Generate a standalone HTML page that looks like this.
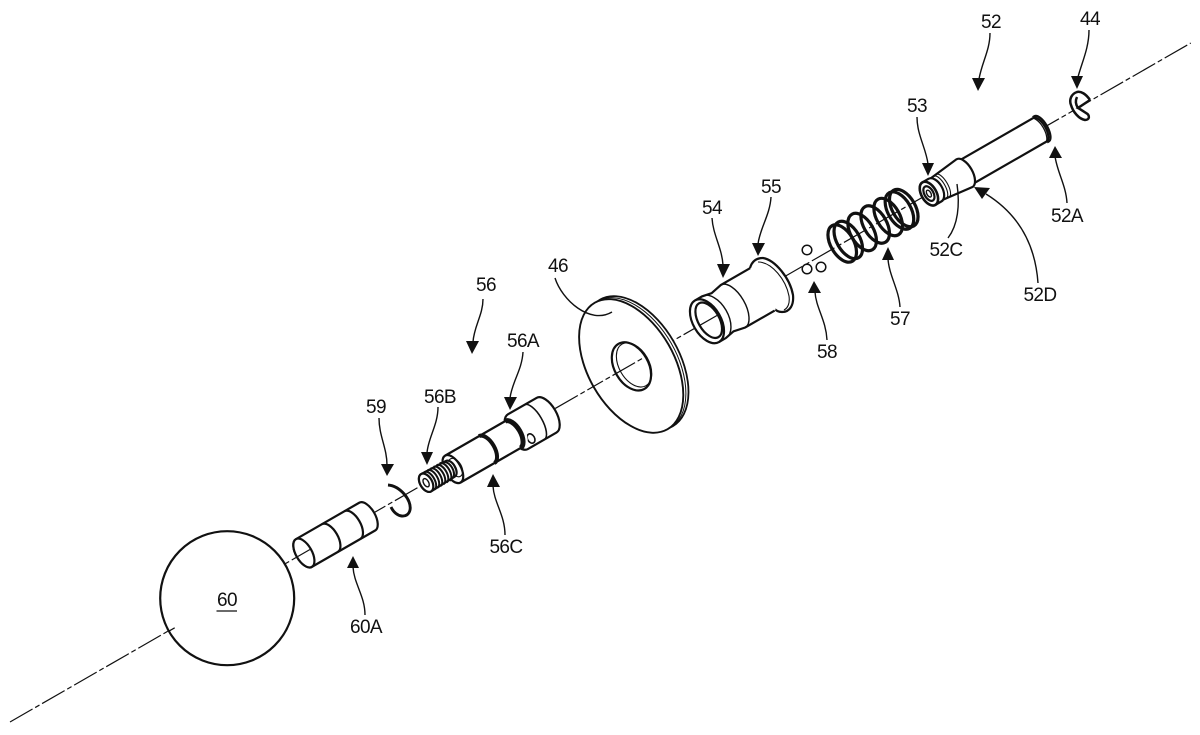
<!DOCTYPE html>
<html><head><meta charset="utf-8"><style>
html,body{margin:0;padding:0;background:#fff;width:1200px;height:735px;overflow:hidden}
svg{display:block}
text{font-family:"Liberation Sans",sans-serif;font-size:19px;letter-spacing:-.6px;fill:#111;text-anchor:middle}
.p{fill:#fff;stroke:#111;stroke-width:2.2}
.f{fill:#fff;stroke:none}
.n{fill:none;stroke:#111;stroke-width:2.2}
.t{fill:none;stroke:#111;stroke-width:1.1}
.a{fill:none;stroke:#111;stroke-width:1.2;stroke-dasharray:26 3 5 3}
.l{fill:none;stroke:#111;stroke-width:1.4}
.h{fill:#111;stroke:none}
</style></head><body>
<svg width="1200" height="735" viewBox="0 0 1200 735" xmlns="http://www.w3.org/2000/svg">
<line class="a" x1="0" y1="0" x2="1362" y2="0" transform="translate(10 722) rotate(-29.9)"/>
<!-- sphere 60 -->
<circle class="p" cx="227.2" cy="598.2" r="67"/>
<line x1="168.600" y1="631.300" x2="174.700" y2="627.800" stroke="#111" stroke-width="1.2"/>
<g transform="translate(10 722) rotate(-29.9)">
<!-- 60A -->
<path class="p" d="M339,-16 L412,-16 A8 16 0 0 1 412,16 L339,16 A8 16 0 0 1 339,-16Z"/>
<ellipse class="p" cx="339" cy="0" rx="8" ry="16"/>
<path class="n" d="M369,-16 A8 16 0 0 1 369,16 M395,-16 A8 16 0 0 1 395,16"/>
<line class="a" x1="332" y1="0" x2="346" y2="0" stroke-dasharray="8 3"/>
<!-- shaft 56 -->
<g transform="translate(0 1.5)">
<path class="p" d="M585,-20 L618,-20 A10 20 0 0 1 618,20 L585,20 A10 20 0 0 1 585,-20Z"/>
<path class="n" d="M604,-20 A8 20 0 0 1 604,20" style="stroke-width:1.6"/>
<ellipse class="p" cx="593" cy="12.500" rx="3.500" ry="5" style="stroke-width:1.6"/>
<path class="f" d="M510,-15.5 L585,-15.5 A7 15.5 0 0 1 585,15.5 L510,15.5Z"/>
<path class="n" d="M510,-15.5 L583,-15.5 M510,15.5 L583,15.5"/>
<ellipse class="p" cx="510" cy="0" rx="8" ry="15.5"/>
<path class="n" style="stroke-width:4" d="M549,-15.5 A8 15.5 0 0 1 549,15.5"/>
<path class="n" style="stroke-width:5" d="M579,-15.5 A8 15.5 0 0 1 579,15.5"/>
<ellipse class="t" cx="513" cy="0" rx="6" ry="10"/>
</g>
<!-- thread -->
<path class="p" d="M480,-10 L508,-9 A5 9 0 0 1 508,9 L480,10 A6 10 0 0 1 480,-10Z"/>
<path class="n" style="stroke-width:2" d="M484,-10 A5 10 0 0 1 484,10 M487.500,-10 A5 10 0 0 1 487.500,10 M491,-10 A5 10 0 0 1 491,10 M494.500,-10 A5 10 0 0 1 494.500,10 M498,-10 A5 10 0 0 1 498,10 M501.500,-10 A5 10 0 0 1 501.500,10 M505,-9 A5 9 0 0 1 505,9"/>
<ellipse class="p" cx="480" cy="0" rx="6" ry="10"/>
<ellipse class="n" cx="480" cy="0" rx="2.5" ry="4.5" style="stroke-width:1.4"/>
<!-- disc 46 -->
<ellipse cx="722" cy="1" rx="43" ry="73" fill="#fff" stroke="#111" stroke-width="1.8"/>
<ellipse cx="719" cy="1" rx="43" ry="73" fill="#fff" stroke="#111" stroke-width="1"/>
<ellipse class="p" cx="716" cy="1" rx="43" ry="73" style="stroke-width:1.9"/>
<ellipse class="p" cx="716" cy="1.5" rx="17" ry="26"/>
<ellipse class="t" cx="719" cy="1.5" rx="15" ry="24"/>
<line class="a" x1="672" y1="0" x2="730" y2="0" stroke-dashoffset="14"/>
<!-- collar 54 body -->
<path class="f" d="M804,-24 L812,-24 L822,-22 L834,-24.5 L875,-24.5 L875,24.5 L834,24.5 L822,22 L812,24 L804,24 Z"/>
</g>
<!-- flange 55 (absolute coordinates) -->
<path d="M750,268 C752,261 757,258 763,258 C775,260 790,278 793,295 C794,305 790,312 782,312 C779,312 776,311 774,308 Z" fill="#fff" stroke="#111" stroke-width="2.2"/>
<path d="M758,262 C772,262 786,280 789,296 C790,303 788,308 784,310" fill="none" stroke="#111" stroke-width="1.1"/>
<g transform="translate(10 722) rotate(-29.9)">
<path class="f" d="M804,-24 L812,-24 L822,-22 L834,-24.5 L868,-24.5 A6 24.5 0 0 1 868,24.5 L834,24.5 L822,22 L812,24 L804,24 Z"/>
<path class="n" d="M804,-24 L812,-24 L822,-22 L834,-24.5 L868,-24.5 M868,24.5 L834,24.5 L822,22 L812,24 L804,24"/>
<path class="t" d="M834,-24.5 A12 24.5 0 0 1 834,24.5" style="stroke-width:1.4"/>
<path class="t" d="M812,-24 A14 24 0 0 1 812,24" style="stroke-width:1.4"/>
<ellipse class="p" cx="804" cy="0" rx="14" ry="24"/>
<ellipse class="p" cx="806" cy="0" rx="10.5" ry="19.5"/>
<line class="a" x1="796" y1="0" x2="816" y2="0" stroke-dasharray="7 3"/>
<!-- spring 57 -->
<g fill="none" stroke="#111" stroke-width="3.2">
<ellipse cx="960" cy="0" rx="11.5" ry="20.5"/>
<ellipse cx="967" cy="0" rx="11.5" ry="20.5"/>
<ellipse cx="983" cy="0" rx="11.5" ry="20.5"/>
<ellipse cx="998" cy="0" rx="11.5" ry="20.5"/>
<ellipse cx="1013" cy="0" rx="11.5" ry="20.5"/>
<ellipse cx="1026" cy="0" rx="11.5" ry="20.5"/>
<ellipse cx="1031" cy="0" rx="11.5" ry="20.5"/>
</g>
<!-- 52 shaft -->
<path class="p" d="M1100,-13.5 L1188,-13.5 A6 13.5 0 0 1 1188,13.5 L1100,13.5Z"/>
<path class="n" d="M1188,-14.5 L1190,-14.5 A6 14.5 0 0 1 1190,14.5 L1188,14.5"/>
<path class="n" d="M1186,-14 A6 14 0 0 1 1186,14" style="stroke-width:1.3"/>
<path class="p" d="M1066,-12 L1101,-16 A8 16 0 0 1 1101,16 L1066,12Z"/>
<path class="t" d="M1073,-12.5 A5 12.5 0 0 1 1073,12.5 M1076,-13 A5 13 0 0 1 1076,13"/>
<path class="p" d="M1060,-13 L1067,-13 A7.5 13 0 0 1 1067,13 L1060,13 A7.5 13 0 0 1 1060,-13Z"/>
<ellipse class="p" cx="1060" cy="0" rx="7.5" ry="13" style="stroke-width:2.6"/>
<ellipse class="n" cx="1060" cy="0" rx="4.5" ry="8"/>
<ellipse class="n" cx="1060" cy="0" rx="2" ry="3.8" style="stroke-width:1.4"/>
</g>
<!-- ring 59 -->
<path d="M388,485 C400,486 412,500 410,510 C408,519 396,518 391,507" fill="none" stroke="#111" stroke-width="2.9"/>
<!-- clip 44 -->
<path d="M1090,100 C1086,94 1081,91 1077,92 C1071,94 1069,100 1071,105 C1073,112 1079,119 1085,120 C1090,120 1090,115 1086,113 C1083,111 1080,109 1078,108 L1090,100 M1077,97 C1075,101 1076,105 1078,108" fill="#fff" stroke="#111" stroke-width="2.5"/>
<!-- balls 58 -->
<g fill="#fff" stroke="#111" stroke-width="1.5">
<circle cx="807" cy="250" r="4.8"/><circle cx="807" cy="269" r="4.8"/><circle cx="821" cy="267" r="4.8"/>
</g>
<!-- leaders -->
<path class="l" d="M990,33 C990,50 982,62 979,79"/><polygon class="h" points="978,91 972,78 985,78"/>
<path class="l" d="M1089,30 C1089,48 1082,62 1078,77"/><polygon class="h" points="1077,89 1071,76 1083,76"/>
<path class="l" d="M917,117 C917,135 926,148 928,164"/><polygon class="h" points="928,176 922,163 934,163"/>
<path class="l" d="M1067,203 C1066,185 1057,172 1055,156"/><polygon class="h" points="1055,146 1049,158 1062,158"/>
<path class="l" d="M1038,283 C1035,240 1015,212 986,194"/><polygon class="h" points="974,187 990,188 982,199"/>
<path class="l" d="M948,238 C958,225 960,205 957,184"/>
<path class="l" d="M712,218 C713,235 722,248 723,265"/><polygon class="h" points="723,278 717,264 730,264"/>
<path class="l" d="M771,197 C770,215 760,228 758,244"/><polygon class="h" points="758,256 752,243 765,243"/>
<path class="l" d="M827,340 C826,320 816,308 815,292"/><polygon class="h" points="814,281 808,293 821,293"/>
<path class="l" d="M900,307 C899,290 889,275 888,259"/><polygon class="h" points="888,247 882,260 894,260"/>
<path class="l" d="M483,299 C483,315 474,326 473,342"/><polygon class="h" points="472,354 466,341 479,341"/>
<path class="l" d="M523,352 C522,370 512,382 510,398"/><polygon class="h" points="510,410 504,397 517,397"/>
<path class="l" d="M438,407 C438,425 428,438 427,453"/><polygon class="h" points="427,465 421,452 433,452"/>
<path class="l" d="M505,535 C505,515 494,503 493,486"/><polygon class="h" points="493,474 487,487 500,487"/>
<path class="l" d="M379,418 C379,436 387,448 387,465"/><polygon class="h" points="387,476 381,464 394,464"/>
<path class="l" d="M365,615 C365,596 354,584 353,567"/><polygon class="h" points="353,556 347,568 359,568"/>
<path class="l" d="M555,278 C562,300 590,325 612,312"/>
<!-- labels -->
<text x="991" y="28">52</text>
<text x="1090" y="25">44</text>
<text x="917" y="112">53</text>
<text x="1067" y="222">52A</text>
<text x="946" y="256">52C</text>
<text x="1040" y="301">52D</text>
<text x="712" y="214">54</text>
<text x="771" y="193">55</text>
<text x="827" y="358">58</text>
<text x="900" y="325">57</text>
<text x="558" y="272">46</text>
<text x="486" y="291">56</text>
<text x="523" y="347">56A</text>
<text x="440" y="403">56B</text>
<text x="376" y="413">59</text>
<text x="506" y="553">56C</text>
<text x="366" y="633">60A</text>
<text x="227" y="606">60</text>
<line x1="216.5" y1="611" x2="237" y2="611" stroke="#111" stroke-width="1.2"/>
</svg>
</body></html>
